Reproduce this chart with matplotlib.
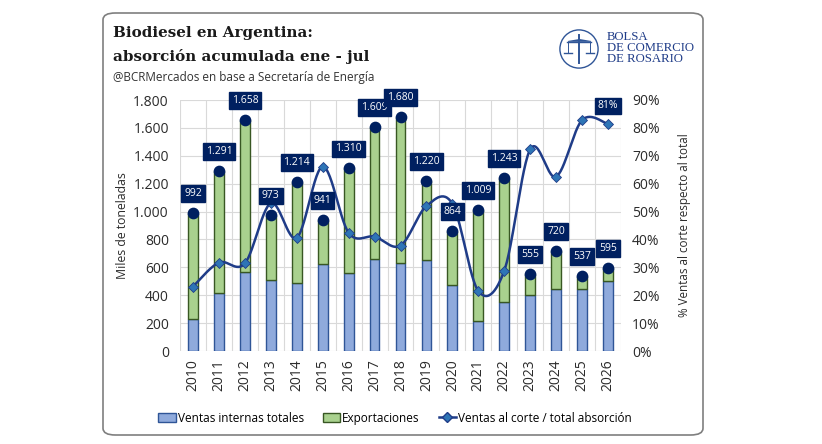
import numpy as np
import matplotlib
matplotlib.use("Agg")
import matplotlib.pyplot as plt
from matplotlib.patches import FancyBboxPatch, Patch, Circle
from matplotlib.lines import Line2D

years = [str(y) for y in range(2010, 2027)]
total = [992, 1291, 1658, 973, 1214, 941, 1310, 1609, 1680, 1220, 864, 1009, 1243, 555, 720, 537, 595]
internas = [229, 414, 564, 512, 490, 622, 559, 660, 634, 650, 473, 215, 354, 402, 447, 442, 502]
ratio = [0.231, 0.317, 0.314, 0.53, 0.406, 0.661, 0.424, 0.410, 0.378, 0.520, 0.528, 0.215, 0.288, 0.723, 0.625, 0.828, 0.814]
exportaciones = [t - i for t, i in zip(total, internas)]
total_labels = ["992", "1.291", "1.658", "973", "1.214", "941", "1.310", "1.609", "1.680",
                "1.220", "864", "1.009", "1.243", "555", "720", "537", "595"]
yticks_left = [0, 200, 400, 600, 800, 1000, 1200, 1400, 1600, 1800]
yticklabels_left = ["0", "200", "400", "600", "800", "1.000", "1.200", "1.400", "1.600", "1.800"]
yticks_right = [0, .1, .2, .3, .4, .5, .6, .7, .8, .9]
yticklabels_right = ["0%", "10%", "20%", "30%", "40%", "50%", "60%", "70%", "80%", "90%"]

NAVY = "#002060"
BLUE = "#8FAADC"
BLUE_E = "#2F5597"
GREEN = "#A9D18E"
GREEN_E = "#385723"
LINE = "#1F3C88"
DIAM = "#2E75B6"
SANS = "Open Sans"
TXT = "#2b2b2b"

fig = plt.figure(figsize=(8.22, 4.44), dpi=100)
fig.patch.set_facecolor("white")

border = FancyBboxPatch((103 / 822, 1 - 435 / 444), 600 / 822, 422 / 444,
                        boxstyle="round,pad=0,rounding_size=0.015",
                        transform=fig.transFigure, fc="none", ec="#7f7f7f", lw=1.2, zorder=-5)
fig.patches.append(border)

ax = fig.add_axes([180 / 822, 1 - 351 / 444, 441 / 822, 251 / 444])
x = np.arange(len(years))
w = 0.38
ax.bar(x, internas, w, color=BLUE, edgecolor=BLUE_E, lw=1.0, zorder=3)
ax.bar(x, exportaciones, w, bottom=internas, color=GREEN, edgecolor=GREEN_E, lw=1.0, zorder=3)
ax.scatter(x, total, s=55, color=NAVY, zorder=5)

ax.set_xlim(-0.5, len(years) - 0.5)
ax.set_ylim(0, 1800)
ax.set_yticks(yticks_left)
ax.set_yticklabels(yticklabels_left, family=SANS, fontsize=10, color=TXT)
ax.set_xticks(x)
ax.set_xticklabels(years, rotation=90, family=SANS, fontsize=10, color=TXT)
ax.set_xticks(np.arange(-0.5, len(years), 1), minor=True)
ax.grid(True, which="minor", axis="x", color="#d9d9d9", lw=0.8, zorder=0)
ax.grid(True, which="major", axis="y", color="#d9d9d9", lw=0.8, zorder=0)
ax.tick_params(axis="x", which="both", length=0, pad=6)
ax.tick_params(axis="y", length=0, pad=8)
for s in ax.spines.values():
    s.set_visible(False)
ax.set_ylabel("Miles de toneladas", family=SANS, fontsize=8.8, color=TXT, labelpad=3)

ax2 = ax.twinx()
ax2.set_ylim(0, 0.9)
ax2.set_yticks(yticks_right)
ax2.set_yticklabels(yticklabels_right, family=SANS, fontsize=10, color=TXT)
ax2.tick_params(axis="y", length=0, pad=8)
for s in ax2.spines.values():
    s.set_visible(False)
ax2.set_ylabel("% Ventas al corte respecto al total", family=SANS, fontsize=8.4, color=TXT, labelpad=13)

# Smoothed line (Bezier segments like spreadsheet smoothing)
xs = x.astype(float)
ys = np.array(ratio)
P = np.column_stack([xs, ys])
Pe = np.vstack([P[0], P, P[-1]])
curve = []
tt = np.linspace(0, 1, 30)
for i in range(len(P) - 1):
    p0, p3 = Pe[i + 1], Pe[i + 2]
    c1 = p0 + (Pe[i + 2] - Pe[i]) / 6
    c2 = p3 - (Pe[i + 3] - Pe[i + 1]) / 6
    seg = ((1 - tt) ** 3)[:, None] * p0 + (3 * (1 - tt) ** 2 * tt)[:, None] * c1 + \
          (3 * (1 - tt) * tt ** 2)[:, None] * c2 + (tt ** 3)[:, None] * p3
    curve.append(seg)
curve = np.vstack(curve)
ax2.plot(curve[:, 0], curve[:, 1], color=LINE, lw=1.8, zorder=4)
ax2.plot(xs, ys, ls="none", marker="D", ms=5.5, mfc=DIAM, mec=LINE, mew=0.6, zorder=5)

# data labels on top of everything
for xi, t, lab in zip(x, total, total_labels):
    ax2.annotate(lab, (xi, t), xycoords=ax.transData, xytext=(0, 10), textcoords="offset points",
                 ha="center", va="bottom", color="white", fontsize=7.5, family=SANS,
                 bbox=dict(boxstyle="square,pad=0.28", fc=NAVY, ec=NAVY), zorder=7)
ax2.annotate("81%", (xs[-1], ys[-1]), xytext=(0, 9), textcoords="offset points",
             ha="center", va="bottom", color="white", fontsize=7.5, family=SANS,
             bbox=dict(boxstyle="square,pad=0.28", fc=NAVY, ec=NAVY), zorder=7)

# Titles
fig.text(113 / 822, 1 - 33 / 444, "Biodiesel en Argentina:", family="DejaVu Serif",
         fontweight="bold", fontsize=10.9, color="#1a1a1a", va="center")
fig.text(113 / 822, 1 - 57 / 444, "absorción acumulada ene - jul", family="DejaVu Serif",
         fontweight="bold", fontsize=10.9, color="#1a1a1a", va="center")
fig.text(113 / 822, 1 - 77 / 444, "@BCRMercados en base a Secretaría de Energía", family=SANS,
         fontsize=8.5, color="#333333", va="center")

# Logo
LOGO = "#2F5597"
lax = fig.add_axes([557 / 822, 1 - 70 / 444, 44 / 822, 42 / 444])
lax.set_xlim(-1.1, 1.1); lax.set_ylim(-1.1, 1.1); lax.set_aspect("equal"); lax.axis("off")
lax.add_patch(Circle((0, 0), 1.0, fc="white", ec=LOGO, lw=1.0))
lax.plot([0, 0], [-0.75, 0.75], color=LOGO, lw=1.4)
lax.plot([-0.65, 0.65], [0.35, 0.35], color=LOGO, lw=1.0)
lax.fill_between([-0.6, 0], [0.45, 0.55], [0.4, 0.4], color=LOGO, lw=0)
lax.fill_between([0, 0.6], [0.55, 0.45], [0.4, 0.4], color=LOGO, lw=0)
lax.plot([-0.8, -0.35], [-0.2, -0.2], color=LOGO, lw=1.0)
lax.plot([0.35, 0.8], [-0.2, -0.2], color=LOGO, lw=1.0)
lax.plot([-0.575, -0.575], [-0.2, 0.35], color=LOGO, lw=0.7)
lax.plot([0.575, 0.575], [-0.2, 0.35], color=LOGO, lw=0.7)
for ly, txt in zip([37.5, 48, 58.5], ["BOLSA", "DE COMERCIO", "DE ROSARIO"]):
    fig.text(607 / 822, 1 - ly / 444, txt, family="Liberation Serif", fontsize=9.2,
             color="#1F3C88", va="center")

handles = [Patch(fc=BLUE, ec=BLUE_E), Patch(fc=GREEN, ec=GREEN_E),
           Line2D([], [], color=LINE, lw=1.8, marker="D", ms=5, mfc=DIAM, mec=LINE)]
fig.legend(handles, ["Ventas internas totales", "Exportaciones", "Ventas al corte / total absorción"],
           loc="center", bbox_to_anchor=(395 / 822, 1 - 418 / 444), ncol=3, frameon=False,
           prop={"family": SANS, "size": 8.5}, handlelength=1.5, handleheight=0.7,
           handletextpad=0.15, columnspacing=1.6)

fig.savefig("out.png", dpi=100)
